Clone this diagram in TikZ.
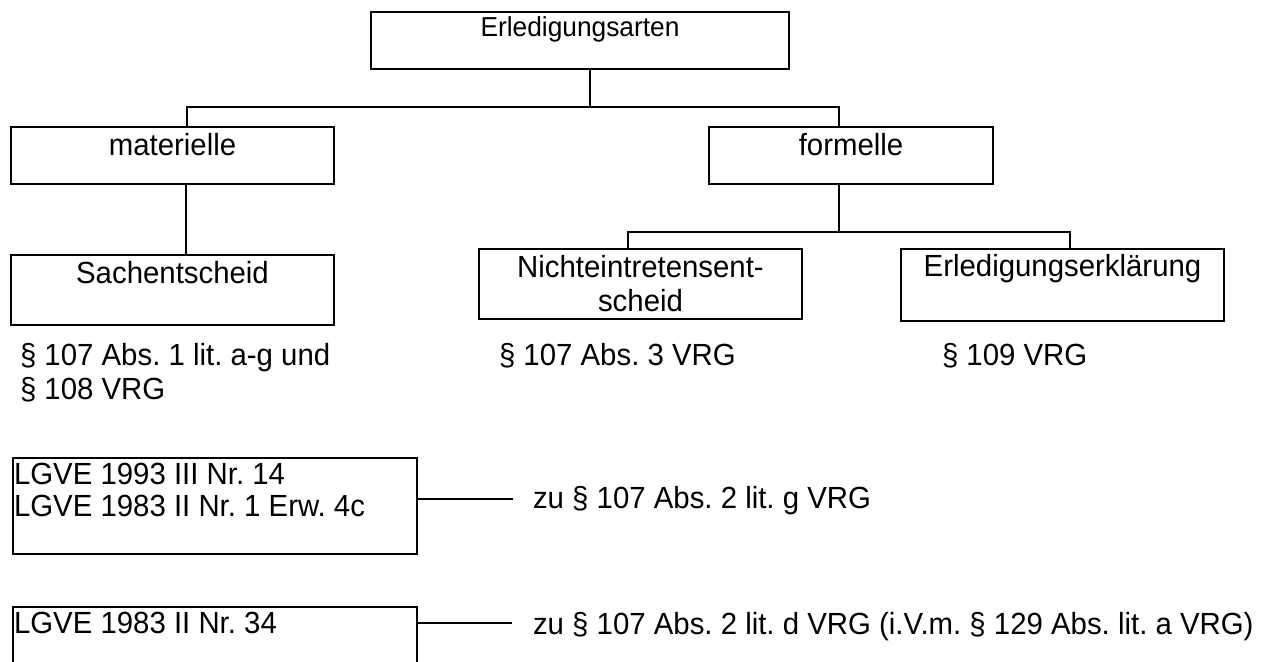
\documentclass[tikz,border=0pt]{standalone}
\usepackage{fontspec}
\setmainfont{Liberation Sans}[FakeStretch=0.96]
\usetikzlibrary{fit}
\frenchspacing
\tikzset{
  box/.style={draw, line width=1pt, inner sep=0pt},
  refbox/.style={draw, line width=0.65pt, inner sep=0pt},
  conn/.style={line width=0.6pt},
  txt/.style={inner sep=0pt, outer sep=0pt, font=\fontsize{15.3}{17}\selectfont\frenchspacing},
}
\begin{document}
\begin{tikzpicture}[x=0.5pt, y=-0.5pt]
\useasboundingbox (0,0) rectangle (1267,662);
\clip (0,0) rectangle (1267,662);
\fill[white] (0,0) rectangle (1267,662);

% boxes
\node[box, fit={(371,12) (789,69)}] (bE) {};
\node[box, fit={(11,127) (334,184)}] (bMat) {};
\node[box, fit={(709,127) (993,184)}] (bForm) {};
\node[box, fit={(11,255) (334,325)}] (bSach) {};
\node[box, fit={(479,249) (802,319)}] (bNicht) {};
\node[box, fit={(901,249) (1224,321)}] (bErkl) {};
\node[refbox, fit={(13,458) (417,554)}] (bL1) {};
\node[refbox, fit={(13,607) (417,700)}] (bL2) {};

% box texts
\node[txt, anchor=base, font=\fontsize{13.7}{15}\selectfont] (tE) at (580,37) {Erledigungsarten};
\node[txt, anchor=base] (tMat) at (172.5,156) {materielle};
\node[txt, anchor=base] (tForm) at (851,156) {formelle};
\node[txt, anchor=base] (tSach) at (172.5,283.5) {Sachentscheid};
\node[txt, anchor=base, align=center] (tNicht) at (640.5,311.5) {Nichteintretensent-\\scheid};
\node[txt, anchor=base] (tErkl) at (1062.5,277) {Erledigungserklärung};
\node[txt, anchor=base west, align=left, font=\fontsize{15.3}{16}\selectfont\frenchspacing] (tL1) at (14,516) {LGVE 1993 III Nr. 14\\LGVE 1983 II Nr. 1 Erw. 4c};
\node[txt, anchor=base west] (tL2) at (14,633) {LGVE 1983 II Nr. 34};

% free texts
\node[txt, anchor=base west, align=left] (t107) at (20,399) {§ 107 Abs. 1 lit. a-g und\\§ 108 VRG};
\node[txt, anchor=base west] (t1073) at (499,365) {§ 107 Abs. 3 VRG};
\node[txt, anchor=base west] (t109) at (942,365) {§ 109 VRG};
\node[txt, anchor=base west] (tZ1) at (533,508) {zu § 107 Abs. 2 lit. g VRG};
\node[txt, anchor=base west] (tZ2) at (533,634) {zu § 107 Abs. 2 lit. d VRG (i.V.m. § 129 Abs. lit. a VRG)};

% tree connectors
\coordinate (h1L) at (187,107);
\coordinate (h1M) at (590,107);
\coordinate (h1R) at (839,107);
\coordinate (m1) at (186,200);
\coordinate (h2L) at (628,232);
\coordinate (h2M) at (839,232);
\coordinate (h2R) at (1070,232);
\coordinate (c1) at (513,499);
\coordinate (c2) at (512,623);

\draw[conn] (bE.south -| h1M) -- (h1M);
\draw[conn] (bMat.north -| h1L) -- (h1L) -- (h1R) -- (bForm.north -| h1R);
\draw[conn] (bMat.south -| m1) -- (bSach.north -| m1);
\draw[conn] (bForm.south -| h2M) -- (h2M);
\draw[conn] (bNicht.north -| h2L) -- (h2L) -- (h2R) -- (bErkl.north -| h2R);
\draw[conn] (bL1.east |- c1) -- (c1);
\draw[conn] (bL2.east |- c2) -- (c2);
\end{tikzpicture}
\end{document}
